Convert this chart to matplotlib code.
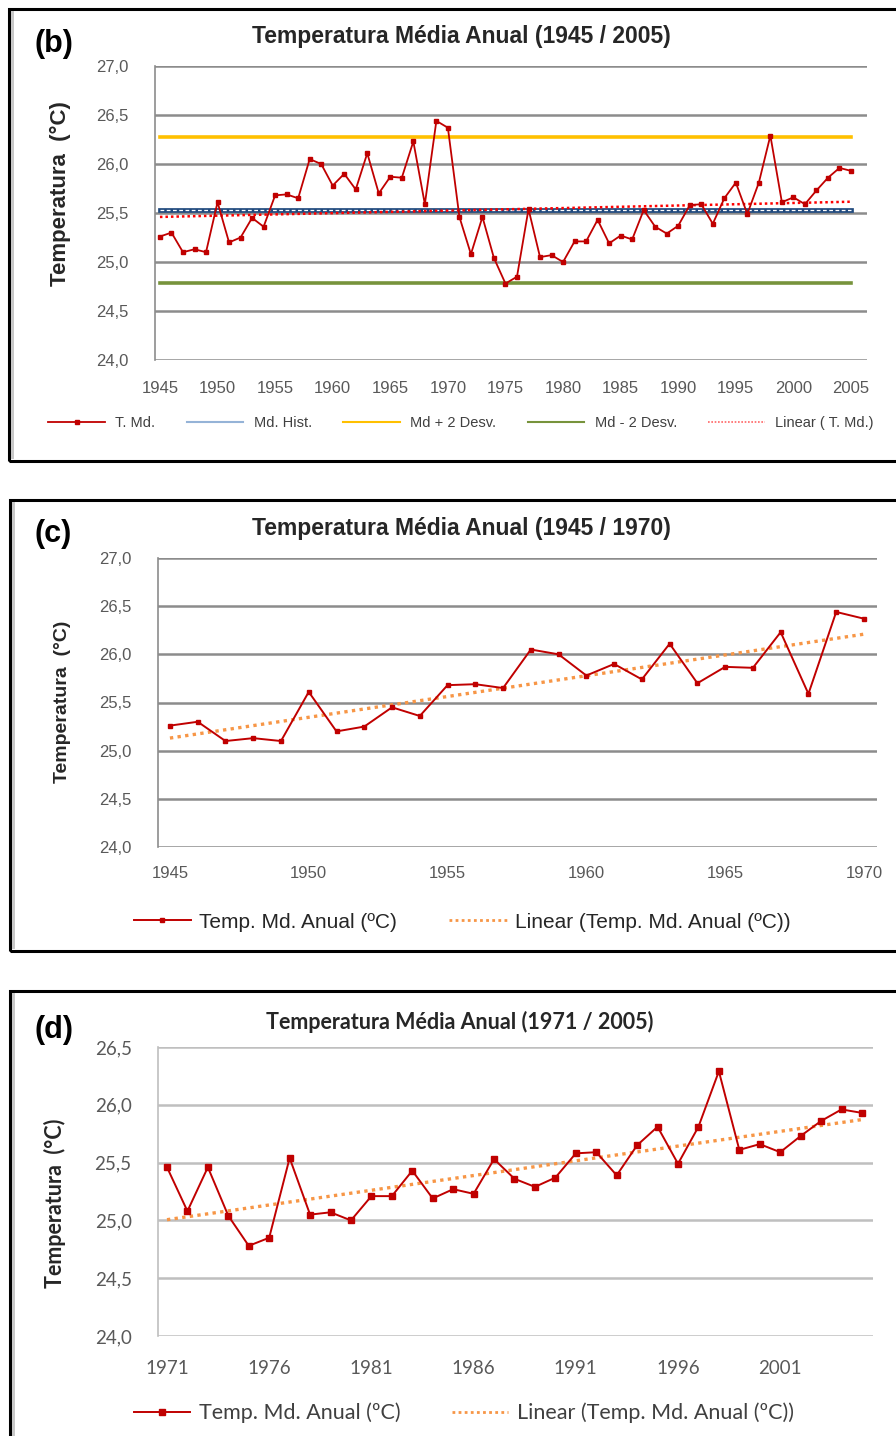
import numpy as np
import matplotlib
matplotlib.use("Agg")
import matplotlib.pyplot as plt
from matplotlib.patches import Rectangle
from matplotlib.lines import Line2D

W, H = 896, 1436

# annual mean temperature 1945-2005
years = list(range(1945, 2006))
temp = [25.26, 25.30, 25.10, 25.13, 25.10, 25.61, 25.20, 25.25, 25.45, 25.36,
        25.68, 25.69, 25.65, 26.05, 26.00, 25.78, 25.90, 25.74, 26.11, 25.70,
        25.87, 25.86, 26.23, 25.59, 26.44, 26.37,
        25.46, 25.08, 25.46, 25.04, 24.78, 24.85, 25.54, 25.05, 25.07, 25.00,
        25.21, 25.21, 25.43, 25.19, 25.27, 25.23, 25.53, 25.36, 25.29, 25.37,
        25.58, 25.59, 25.39, 25.65, 25.81, 25.49, 25.81, 26.29, 25.61, 25.66,
        25.59, 25.73, 25.86, 25.96, 25.93]

md_hist = 25.53
md_plus = 26.28
md_minus = 24.79

ticks_b = list(range(1945, 2006, 5))
ticks_c = list(range(1945, 1971, 5))
ticks_d = list(range(1971, 2002, 5))
yticks_bc = [24.0, 24.5, 25.0, 25.5, 26.0, 26.5, 27.0]
yticks_d = [24.0, 24.5, 25.0, 25.5, 26.0, 26.5]

RED = "#C00000"
ARIAL = ["Liberation Sans", "DejaVu Sans"]
CALIBRI = ["Lato", "DejaVu Sans"]


def fx(x):
    return x / W


def fy(y):
    return 1 - y / H


def rect(left, top, right, bottom):
    return [left / W, 1 - bottom / H, (right - left) / W, (bottom - top) / H]


def comma(v):
    return f"{v:.1f}".replace(".", ",")


def style_axes(ax, yticks, xticks, xlim, grid_color, family, fsize, xpad, ypad):
    ax.set_xlim(*xlim)
    ax.set_ylim(yticks[0], yticks[-1])
    ax.set_yticks(yticks)
    ax.set_yticklabels([comma(v) for v in yticks], family=family, fontsize=fsize, color="#595959")
    ax.set_xticks(xticks)
    ax.set_xticklabels([str(v) for v in xticks], family=family, fontsize=fsize, color="#595959")
    ax.tick_params(axis="both", length=0)
    ax.tick_params(axis="x", pad=xpad)
    ax.tick_params(axis="y", pad=ypad)
    for s in ["top", "right", "bottom"]:
        ax.spines[s].set_visible(False)
    ax.spines["left"].set_color(grid_color)
    ax.spines["left"].set_linewidth(1.2)
    ax.yaxis.grid(True, color=grid_color, linewidth=1.8)
    ax.set_axisbelow(True)


def frame(fig, left, top, bottom):
    fig.add_artist(Rectangle((fx(left), fy(bottom)), fx(W + 20 - left), fy(top) - fy(bottom),
                             transform=fig.transFigure, fill=False, edgecolor="black",
                             linewidth=2.2, clip_on=False))
    fig.add_artist(Rectangle((fx(left + 2), fy(bottom - 2)), fx(3), fy(top + 2) - fy(bottom - 2),
                             transform=fig.transFigure, facecolor="#c8c8c8", edgecolor="none"))


def main():
    fig = plt.figure(figsize=(W / 100, H / 100), dpi=100)
    fig.patch.set_facecolor("white")

    x = np.array(years)
    y = np.array(temp)

    # ---------- (b) 1945-2005 ----------
    frame(fig, 9, 9, 461)
    ax = fig.add_axes(rect(155, 66, 867, 360))
    style_axes(ax, yticks_bc, ticks_b, (1944.57, 2006.39), "#8c8c8c", ARIAL, 12, 15, 19)
    ax.plot([years[0], years[-1]], [md_plus, md_plus], color="#FFC000", lw=2.6, zorder=2)
    ax.plot([years[0], years[-1]], [md_minus, md_minus], color="#77933C", lw=2.6, zorder=2)
    ax.plot([years[0], years[-1]], [md_hist, md_hist], color="#1F497D", lw=3.4, zorder=2)
    ax.plot([years[0], years[-1]], [md_hist, md_hist], color="white", lw=0.9, ls=(0, (3, 2)), zorder=2)
    k, b = np.polyfit(x, y, 1)
    ax.plot(x, k * x + b, color="#FF0000", lw=1.8, ls=(0, (1, 1.2)), zorder=3)
    ax.plot(x, y, color=RED, lw=1.3, marker="s", ms=3, zorder=4)

    fig.text(fx(461), fy(36), "Temperatura Média Anual (1945 / 2005)", ha="center", va="center",
             family=ARIAL, fontsize=16.5, weight="bold", color="#262626")
    fig.text(fx(34), fy(44), "(b)", ha="left", va="center", family=ARIAL, fontsize=22, weight="bold")
    fig.text(fx(60), fy(194), "Temperatura  (°C)", rotation=90, ha="center", va="center",
             family=ARIAL, fontsize=16, weight="bold", color="#262626")

    handles = [Line2D([], [], color=RED, lw=1.3, marker="s", ms=3),
               Line2D([], [], color="#95B3D7", lw=1.5),
               Line2D([], [], color="#FFC000", lw=1.5),
               Line2D([], [], color="#77933C", lw=1.5),
               Line2D([], [], color="#FF6666", lw=1.2, ls=(0, (1, 1)))]
    labels = ["T. Md.", "Md. Hist.", "Md + 2 Desv.", "Md - 2 Desv.", "Linear ( T. Md.)"]
    leg = fig.legend(handles, labels, loc="center left", bbox_to_anchor=(fx(35), fy(423)),
                     ncol=5, frameon=False, handlelength=3.9, handletextpad=0.7,
                     columnspacing=2.15, prop={"family": ARIAL, "size": 10.5})
    for t in leg.get_texts():
        t.set_color("#404040")

    # ---------- (c) 1945-1970 ----------
    frame(fig, 10, 500, 951)
    ax = fig.add_axes(rect(158, 558, 877, 847))
    style_axes(ax, yticks_bc, ticks_c, (1944.57, 1970.47), "#8c8c8c", ARIAL, 12, 14, 19)
    xc = x[x <= 1970]
    yc = y[x <= 1970]
    k, b = np.polyfit(xc, yc, 1)
    ax.plot(xc, k * xc + b, color="#F79646", lw=2.4, ls=(0, (1, 1.3)), zorder=3)
    ax.plot(xc, yc, color=RED, lw=1.4, marker="s", ms=3.5, zorder=4)

    fig.text(fx(461), fy(529), "Temperatura Média Anual (1945 / 1970)", ha="center", va="center",
             family=ARIAL, fontsize=16.5, weight="bold", color="#262626")
    fig.text(fx(34), fy(534), "(c)", ha="left", va="center", family=ARIAL, fontsize=22, weight="bold")
    fig.text(fx(62), fy(702), "Temperatura  (°C)", rotation=90, ha="center", va="center",
             family=ARIAL, fontsize=14, weight="bold", color="#262626")

    handles = [Line2D([], [], color=RED, lw=1.4, marker="s", ms=3.5),
               Line2D([], [], color="#F79646", lw=2.0, ls=(0, (1, 1.2)))]
    labels = ["Temp. Md. Anual (ºC)", "Linear (Temp. Md. Anual (ºC))"]
    leg = fig.legend(handles, labels, loc="center left", bbox_to_anchor=(fx(115), fy(922)),
                     ncol=2, frameon=False, handlelength=2.75, handletextpad=0.4,
                     columnspacing=2.5, prop={"family": ARIAL, "size": 15})
    for t in leg.get_texts():
        t.set_color("#262626")

    # ---------- (d) 1971-2005 ----------
    frame(fig, 10, 991, H + 20)
    ax = fig.add_axes(rect(158, 1047, 873, 1336))
    style_axes(ax, yticks_d, ticks_d, (1970.56, 2005.54), "#bfbfbf", CALIBRI, 13.5, 17, 19)
    xd = x[x >= 1971]
    yd = y[x >= 1971]
    k, b = np.polyfit(xd, yd, 1)
    ax.plot(xd, k * xd + b, color="#F79646", lw=2.4, ls=(0, (1, 1.3)), zorder=3)
    ax.plot(xd, yd, color=RED, lw=1.4, marker="s", ms=5, zorder=4)

    fig.text(fx(460), fy(1022), "Temperatura Média Anual (1971 / 2005)", ha="center", va="center",
             family=CALIBRI, fontsize=15.5, weight="bold", color="#262626")
    fig.text(fx(34), fy(1030), "(d)", ha="left", va="center", family=ARIAL, fontsize=22, weight="bold")
    fig.text(fx(55), fy(1203), "Temperatura  (°C)", rotation=90, ha="center", va="center",
             family=CALIBRI, fontsize=15.5, weight="bold", color="#262626")

    handles = [Line2D([], [], color=RED, lw=1.4, marker="s", ms=5),
               Line2D([], [], color="#F79646", lw=2.0, ls=(0, (1, 1.2)))]
    labels = ["Temp. Md. Anual (ºC)", "Linear (Temp. Md. Anual (ºC))"]
    leg = fig.legend(handles, labels, loc="center left", bbox_to_anchor=(fx(115), fy(1413)),
                     ncol=2, frameon=False, handlelength=2.6, handletextpad=0.4,
                     columnspacing=2.4, prop={"family": CALIBRI, "size": 15.5})
    for t in leg.get_texts():
        t.set_color("#404040")

    fig.savefig("out.png", dpi=100)


if __name__ == "__main__":
    main()
